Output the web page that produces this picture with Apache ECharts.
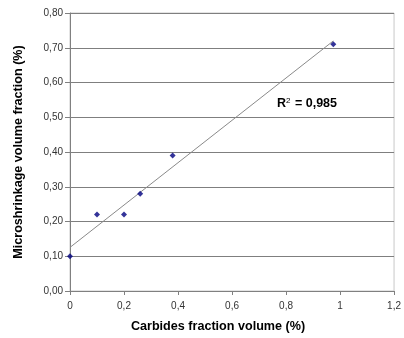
<!DOCTYPE html>
<html>
<head>
<meta charset="utf-8">
<script src="https://cdn.jsdelivr.net/npm/echarts@6/dist/echarts.min.js"></script>
<style>
  html, body { margin: 0; padding: 0; background: #fff; }
  #chart { width: 404px; height: 338px; }
</style>
</head>
<body>
<div id="chart"></div>
<script>
// Carbide fraction volume (%) vs. microshrinkage volume fraction (%)
const carbides = [0, 0.10, 0.20, 0.26, 0.38, 0.975];
const microshrinkage = [0.10, 0.22, 0.22, 0.28, 0.39, 0.71];
const rSquaredLabel = '0,985';

// Least-squares linear trendline over the measured range
function linearFit(xs, ys) {
  const n = xs.length;
  const mx = xs.reduce((a, b) => a + b, 0) / n;
  const my = ys.reduce((a, b) => a + b, 0) / n;
  let sxx = 0, sxy = 0;
  for (let i = 0; i < n; i++) {
    sxx += (xs[i] - mx) * (xs[i] - mx);
    sxy += (xs[i] - mx) * (ys[i] - my);
  }
  const slope = sxy / sxx;
  return { slope, intercept: my - slope * mx };
}
const fit = linearFit(carbides, microshrinkage);
const xMin = Math.min(...carbides), xMax = Math.max(...carbides);
const trend = [
  [xMin, fit.intercept + fit.slope * xMin],
  [xMax, fit.intercept + fit.slope * xMax]
];

const comma = (v, d) => v.toFixed(d).replace('.', ',');
const font = 'Liberation Sans, Arial, sans-serif';

const chart = echarts.init(document.getElementById('chart'), null, { renderer: 'canvas' });
chart.setOption({
  animation: false,
  backgroundColor: '#fff',
  grid: { left: 70, right: 6, top: 13, bottom: 45, show: true, borderColor: '#c8c8c8', borderWidth: 1 },
  xAxis: {
    type: 'value', min: 0, max: 1.2, interval: 0.2,
    name: 'Carbides fraction volume (%)', nameLocation: 'middle', nameGap: 29,
    nameTextStyle: { fontFamily: font, fontWeight: 'bold', fontSize: 12.6, color: '#000', padding: [0, 28, 0, 0] },
    axisLine: { onZero: false, lineStyle: { color: '#808080', width: 1 } },
    axisTick: { show: true, length: 4, lineStyle: { color: '#808080' } },
    axisLabel: { fontFamily: font, fontSize: 10, color: '#333', margin: 10,
      formatter: v => (Math.abs(v - Math.round(v)) < 1e-9 ? String(Math.round(v)) : comma(v, 1)) },
    splitLine: { show: false }
  },
  yAxis: {
    type: 'value', min: 0, max: 0.8, interval: 0.1,
    name: 'Microshrinkage volume fraction (%)', nameLocation: 'middle', nameGap: 45,
    nameTextStyle: { fontFamily: font, fontWeight: 'bold', fontSize: 12.6, color: '#000' },
    axisLine: { show: true, onZero: false, lineStyle: { color: '#808080', width: 1 } },
    axisTick: { show: true, length: 5, lineStyle: { color: '#808080' } },
    axisLabel: { fontFamily: font, fontSize: 10, color: '#333', margin: 7,
      formatter: v => comma(v, 2) },
    splitLine: { show: true, lineStyle: { color: '#7f7f7f', width: 1 } }
  },
  series: [
    {
      type: 'line', data: trend, symbol: 'none', silent: true,
      lineStyle: { color: '#8a8a8a', width: 1 }, z: 2
    },
    {
      type: 'scatter', data: carbides.map((x, i) => [x, microshrinkage[i]]),
      symbol: 'diamond', symbolSize: 6,
      itemStyle: { color: '#000080' }, z: 3
    }
  ],
  graphic: [{
    type: 'text', left: 277, top: 97,
    style: {
      text: '{b|R}{s|2}{b| = ' + rSquaredLabel + '}',
      rich: {
        b: { fontFamily: font, fontWeight: 'bold', fontSize: 12.5, fill: '#000' },
        s: { fontFamily: font, fontSize: 8, fill: '#000', verticalAlign: 'top', padding: [0, 1, 6, 0] }
      }
    }
  }]
});
</script>
</body>
</html>
